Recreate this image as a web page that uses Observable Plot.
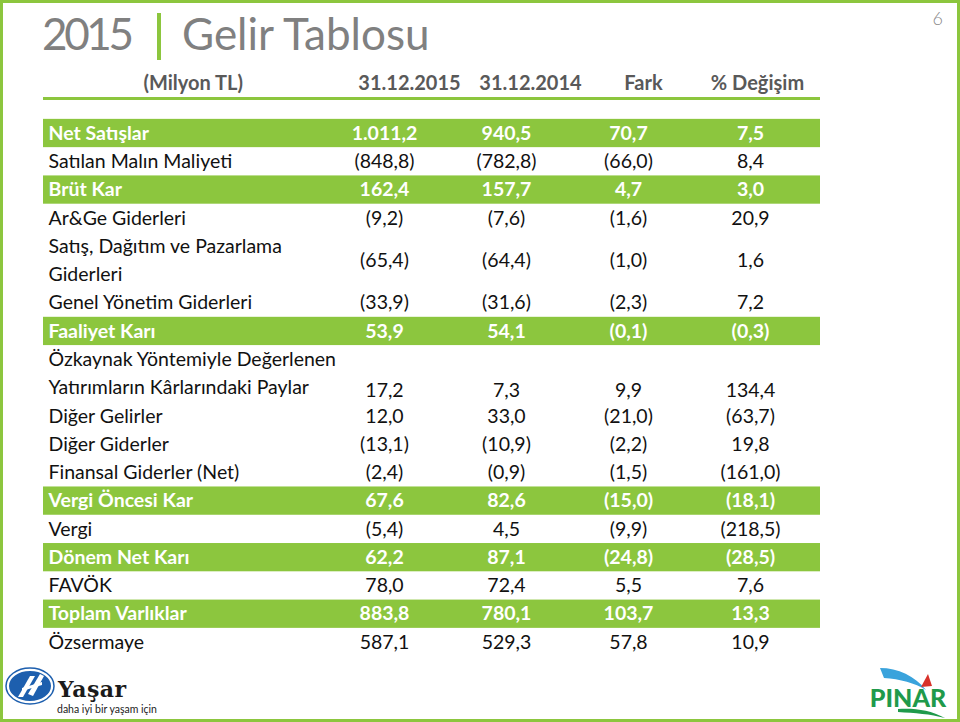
<!DOCTYPE html>
<html>
<head>
<meta charset="utf-8">
<script src="https://cdn.jsdelivr.net/npm/d3@7"></script>
<script src="https://cdn.jsdelivr.net/npm/@observablehq/plot@0.6"></script>
<style>
  html, body { margin: 0; padding: 0; background: #fff; }
  #slide { position: relative; width: 960px; height: 722px; overflow: hidden; background: #fff; font-family: Lato, "Open Sans", sans-serif; }
  #chart, #deco { position: absolute; left: 0; top: 0; }
  #frame { position: absolute; left: 0; top: 0; width: 960px; height: 722px; box-sizing: border-box; border: 3px solid #8cc63e; pointer-events: none; }
</style>
</head>
<body>
<div id="slide">
  <div id="chart"></div>
  <svg id="deco" width="960" height="722" xmlns="http://www.w3.org/2000/svg">
    <text x="42" y="50" font-family="Lato" font-weight="400" font-size="44" fill="#808080" textLength="92">2015</text>
    <rect x="157" y="13" width="4" height="47" fill="#8cc63e"/>
    <text x="182" y="50" font-family="Lato" font-weight="400" font-size="44" fill="#808080">Gelir Tablosu</text>
    <text x="943" y="25" text-anchor="end" font-family="Lato" font-weight="300" font-size="18" fill="#8a8a8a">6</text>
    <!-- Yaşar logo -->
    <ellipse cx="30" cy="686" rx="22" ry="16" fill="#1d5fae" stroke="#ffffff" stroke-width="2"/>
    <ellipse cx="30" cy="686" rx="24" ry="18" fill="none" stroke="#1d5fae" stroke-width="1.5"/>
    <path d="M18 697 L30 676 L35 676 L23 697 Z" fill="#fff"/>
    <path d="M28 694 L40 674 L44 676 L33 696 Z" fill="#fff"/>
    <path d="M22 688 L42 682 L42 685 L22 691 Z" fill="#fff"/>
    <text x="58" y="697" font-family="DejaVu Serif" font-weight="bold" font-size="22" fill="#1b1b1b" textLength="68">Yaşar</text>
    <text x="57" y="713" font-family="Lato" font-size="10.5" fill="#222">daha iyi bir yaşam için</text>
    <!-- Pınar logo -->
    <path d="M880 668 C 898 668, 915 676, 926 690 C 915 683, 900 679, 884 678 Z" fill="#3aa3dc"/>
    <path d="M921 687 L928 674 L932 686 Z" fill="#d8322a"/>
    <text x="908" y="707" text-anchor="middle" font-family="Lato" font-weight="900" font-size="25" fill="#1f9a4b">PINAR</text>
    <path d="M898 709 C 915 708, 930 710, 945 718 C 930 714, 915 713, 898 712 Z" fill="#1f9a4b"/>
  </svg>
  <div id="frame"></div>
</div>
<script>
// ---- data ----
const unitLabel = "(Milyon TL)";
const columns = ["31.12.2015", "31.12.2014", "Fark", "% Değişim"];
const labels = [
  "Net Satışlar",
  "Satılan Malın Maliyeti",
  "Brüt Kar",
  "Ar&Ge Giderleri",
  "Satış, Dağıtım ve Pazarlama\nGiderleri",
  "Genel Yönetim Giderleri",
  "Faaliyet Karı",
  "Özkaynak Yöntemiyle Değerlenen\nYatırımların Kârlarındaki Paylar",
  "Diğer Gelirler",
  "Diğer Giderler",
  "Finansal Giderler (Net)",
  "Vergi Öncesi Kar",
  "Vergi",
  "Dönem Net Karı",
  "FAVÖK",
  "Toplam Varlıklar",
  "Özsermaye"
];
const v2015 = [1011.2, -848.8, 162.4, -9.2, -65.4, -33.9, 53.9, 17.2, 12.0, -13.1, -2.4, 67.6, -5.4, 62.2, 78.0, 883.8, 587.1];
const v2014 = [940.5, -782.8, 157.7, -7.6, -64.4, -31.6, 54.1, 7.3, 33.0, -10.9, -0.9, 82.6, 4.5, 87.1, 72.4, 780.1, 529.3];
const fark = [70.7, -66.0, 4.7, -1.6, -1.0, -2.3, -0.1, 9.9, -21.0, -2.2, -1.5, -15.0, -9.9, -24.8, 5.5, 103.7, 57.8];
const degisim = [7.5, 8.4, 3.0, 20.9, 1.6, 7.2, -0.3, 134.4, -63.7, 19.8, -161.0, -18.1, -218.5, -28.5, 7.6, 13.3, 10.9];
const highlighted = ["Net Satışlar", "Brüt Kar", "Faaliyet Karı", "Vergi Öncesi Kar", "Dönem Net Karı", "Toplam Varlıklar"];

// ---- formatting ----
const trLocale = d3.formatLocale({decimal: ",", thousands: ".", grouping: [3], currency: ["", " TL"]});
const f1 = trLocale.format(",.1f");
const fmt = v => v < 0 ? `(${f1(-v)})` : f1(v);

// ---- layout (line slots) ----
const GREEN = "#8cc63e";
const rows = labels.map((label, i) => ({
  label,
  lines: label.split("\n"),
  vals: [v2015[i], v2014[i], fark[i], degisim[i]],
  hi: highlighted.includes(label)
}));
let slot = 0;
rows.forEach(r => {
  r.slot = slot;
  slot += r.lines.length;
  r.valueSlot = r.lines.length === 1 ? r.slot
    : (r.label.startsWith("Özkaynak") ? r.slot + 1.1 : r.slot + 0.5);
});
const labelLines = rows.flatMap(r => r.lines.map((t, k) => ({text: t, y: r.slot + k, hi: r.hi})));
const cells = rows.flatMap(r => columns.map((c, j) => ({col: c, y: r.valueSlot, text: fmt(r.vals[j]), hi: r.hi})));
const headerY = -1.75;
const headerRuleY = -1.24;
const headerShift = [25, 24, 15, 7]; // header labels sit right of the value centres

const font = "Lato, 'Open Sans', sans-serif";
const headStyle = {fontSize: 20, fontWeight: "bold", fill: "#595959", fontFamily: font};
const plot = Plot.plot({
  width: 960,
  height: 722,
  marginLeft: 43,
  marginRight: 140,
  marginTop: 0,
  marginBottom: 0,
  style: {background: "transparent", fontFamily: font},
  x: {type: "point", domain: columns, range: [383, 751], padding: 0, axis: null},
  y: {type: "linear", domain: [0, 18], range: [133, 642], axis: null},
  marks: [
    Plot.rect(rows.filter(r => r.hi), {y1: r => r.slot - 0.5, y2: r => r.slot + 0.5, fill: GREEN}),
    Plot.ruleY([headerRuleY], {stroke: GREEN, strokeWidth: 3}),
    Plot.text([unitLabel], {frameAnchor: "left", y: () => headerY, dx: 100, textAnchor: "start", text: d => d, ...headStyle}),
    ...columns.map((c, j) => Plot.text([c], {x: d => d, y: () => headerY, text: d => d, dx: headerShift[j], ...headStyle})),
    Plot.text(labelLines.filter(d => !d.hi), {frameAnchor: "left", y: "y", text: "text", dx: 5, textAnchor: "start",
      fontSize: 19.5, fill: "#111111", fontFamily: font}),
    Plot.text(labelLines.filter(d => d.hi), {frameAnchor: "left", y: "y", text: "text", dx: 5, textAnchor: "start",
      fontSize: 19.5, fill: "#ffffff", fontWeight: "bold", fontFamily: font}),
    Plot.text(cells.filter(d => !d.hi), {x: "col", y: "y", text: "text", fontSize: 19.5, fill: "#111111", fontFamily: font}),
    Plot.text(cells.filter(d => d.hi), {x: "col", y: "y", text: "text", fontSize: 19.5, fill: "#ffffff", fontWeight: "bold", fontFamily: font})
  ]
});
document.getElementById("chart").appendChild(plot);
</script>
</body>
</html>
